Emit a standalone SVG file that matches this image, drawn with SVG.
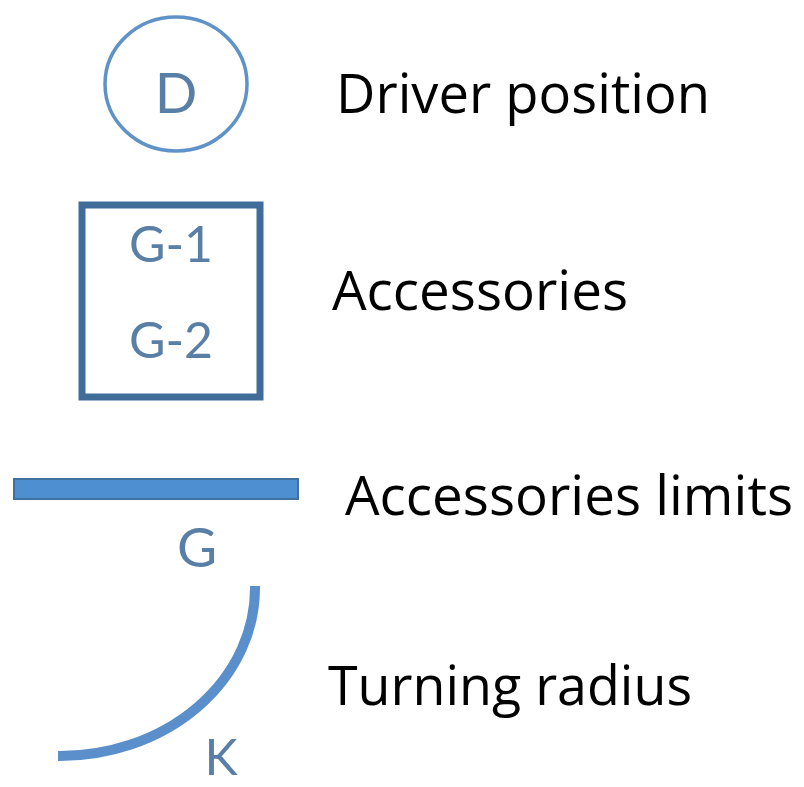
<svg xmlns="http://www.w3.org/2000/svg" width="804" height="787" viewBox="0 0 804 787">
<style>
.lbl{font-family:"Open Sans","Liberation Sans",sans-serif;font-size:54px;fill:#000;}
.sym{font-family:Lato,"Open Sans","Liberation Sans",sans-serif;fill:#5a7fa6;text-anchor:middle;}
</style>
<rect width="804" height="787" fill="#fff"/>
<g id="driver">
<ellipse cx="176" cy="84" rx="71" ry="67" fill="none" stroke="#5f93c8" stroke-width="3.5"/>
<text class="sym" x="176" y="113" font-size="56">D</text>
<text class="lbl" x="336" y="113" textLength="374" lengthAdjust="spacingAndGlyphs">Driver position</text>
</g>
<g id="accessories">
<rect x="82" y="205" width="178" height="192" fill="none" stroke="#3f6c98" stroke-width="7"/>
<text class="sym" x="171" y="262" font-size="50">G-1</text>
<text class="sym" x="171" y="358" font-size="50">G-2</text>
<text class="lbl" x="332" y="310" textLength="296" lengthAdjust="spacingAndGlyphs">Accessories</text>
</g>
<g id="limits">
<rect x="14" y="479" width="284" height="20" fill="#4e8fd2" stroke="#41709f" stroke-width="2"/>
<text class="sym" x="197" y="567" font-size="55">G</text>
<text class="lbl" x="345" y="515" textLength="448" lengthAdjust="spacingAndGlyphs">Accessories limits</text>
</g>
<g id="turning">
<path d="M255,586 A195,168 0 0 1 58,756" fill="none" stroke="#5a8fcb" stroke-width="10"/>
<text class="sym" x="221" y="775" font-size="50">K</text>
<text class="lbl" x="328" y="705" textLength="364" lengthAdjust="spacingAndGlyphs">Turning radius</text>
</g>
</svg>
